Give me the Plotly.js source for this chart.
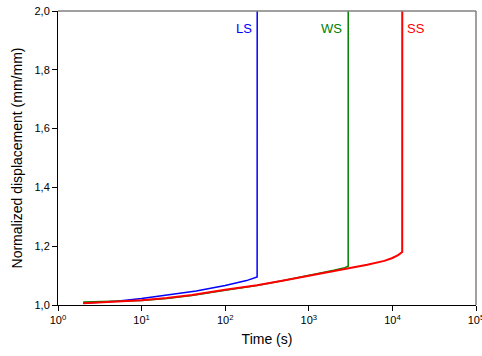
<!DOCTYPE html>
<html><head><meta charset="utf-8">
<script src="https://cdn.plot.ly/plotly-3.0.1.min.js"></script>
<style>html,body{margin:0;padding:0;background:#fff}#c{width:482px;height:356px}</style>
</head><body><div id="c"></div>
<script>
var lsTime = [2, 5, 10, 20, 40, 45, 100, 180, 241, 241.5];
var lsDisp = [1.006, 1.013, 1.022, 1.033, 1.044, 1.048, 1.066, 1.083, 1.095, 2.0];
var wsTime = [2, 5, 10, 20, 40, 100, 240, 500, 1000, 2000, 2700, 2958, 2962];
var wsDisp = [1.010, 1.012, 1.015, 1.022, 1.032, 1.050, 1.066, 1.083, 1.100, 1.118, 1.127, 1.132, 2.0];
var ssTime = [2, 5, 10, 20, 40, 100, 240, 500, 1000, 2000, 3000, 5000, 8000, 10000, 11700, 13100, 13120];
var ssDisp = [1.006, 1.011, 1.016, 1.024, 1.034, 1.052, 1.067, 1.083, 1.099, 1.115, 1.125, 1.137, 1.150, 1.160, 1.170, 1.180, 2.0];
var xTickVals = [1, 10, 100, 1000, 10000, 99999];
var xTickText = ['10<sup>0</sup>', '10<sup>1</sup>', '10<sup>2</sup>', '10<sup>3</sup>', '10<sup>4</sup>', '10<sup>5</sup>'];
var yTickVals = [1.0, 1.2, 1.4, 1.6, 1.8, 2.0];
var labels = ['LS', 'WS', 'SS'];

var font = 'Liberation Sans, Arial, sans-serif';
var traces = [
  {x: lsTime, y: lsDisp, mode: 'lines', line: {color: '#0000ff', width: 1.5}, name: labels[0]},
  {x: wsTime, y: wsDisp, mode: 'lines', line: {color: '#008000', width: 1.5}, name: labels[1]},
  {x: ssTime, y: ssDisp, mode: 'lines', line: {color: '#ff0000', width: 2}, name: labels[2]}
];
var layout = {
  width: 482, height: 356,
  margin: {l: 58, r: 6, t: 11, b: 51},
  separators: ',.',
  showlegend: false,
  paper_bgcolor: '#fff', plot_bgcolor: '#fff',
  font: {family: font, size: 11, color: '#000'},
  xaxis: {
    type: 'log', range: [0, 5], tickvals: xTickVals, ticktext: xTickText,
    ticklabeloverflow: 'allow',
    showgrid: false, zeroline: false, showline: true, linecolor: '#000', linewidth: 1,
    ticks: 'outside', ticklen: 5, tickcolor: '#000', tickfont: {size: 11},
    title: {text: 'Time (s)', font: {size: 14}, standoff: 8}
  },
  yaxis: {
    range: [1.0, 2.0], tickvals: yTickVals, tickformat: '.1f',
    showgrid: false, zeroline: false, showline: true, linecolor: '#000', linewidth: 1,
    ticks: 'outside', ticklen: 5, tickcolor: '#000', tickfont: {size: 11},
    title: {text: 'Normalized displacement (mm/mm)', font: {size: 14}, standoff: 8}
  },
  shapes: [
    {type: 'line', xref: 'paper', yref: 'paper', x0: 0, x1: 1, y0: 1, y1: 1, line: {color: '#808080', width: 1.5}},
    {type: 'line', xref: 'paper', yref: 'paper', x0: 1, x1: 1, y0: 0, y1: 1, line: {color: '#808080', width: 1.5}}
  ],
  annotations: [
    {x: Math.log10(lsTime[lsTime.length-1]), y: 1.94, xref: 'x', yref: 'y', text: labels[0], showarrow: false, xanchor: 'right', xshift: -3, font: {size: 13, color: '#0000ff'}},
    {x: Math.log10(wsTime[wsTime.length-1]), y: 1.94, xref: 'x', yref: 'y', text: labels[1], showarrow: false, xanchor: 'right', xshift: -4, font: {size: 13, color: '#008000'}},
    {x: Math.log10(ssTime[ssTime.length-1]), y: 1.94, xref: 'x', yref: 'y', text: labels[2], showarrow: false, xanchor: 'left', xshift: 3, font: {size: 13, color: '#ff0000'}}
  ]
};
Plotly.newPlot('c', traces, layout, {displayModeBar: false, staticPlot: true});
</script></body></html>
